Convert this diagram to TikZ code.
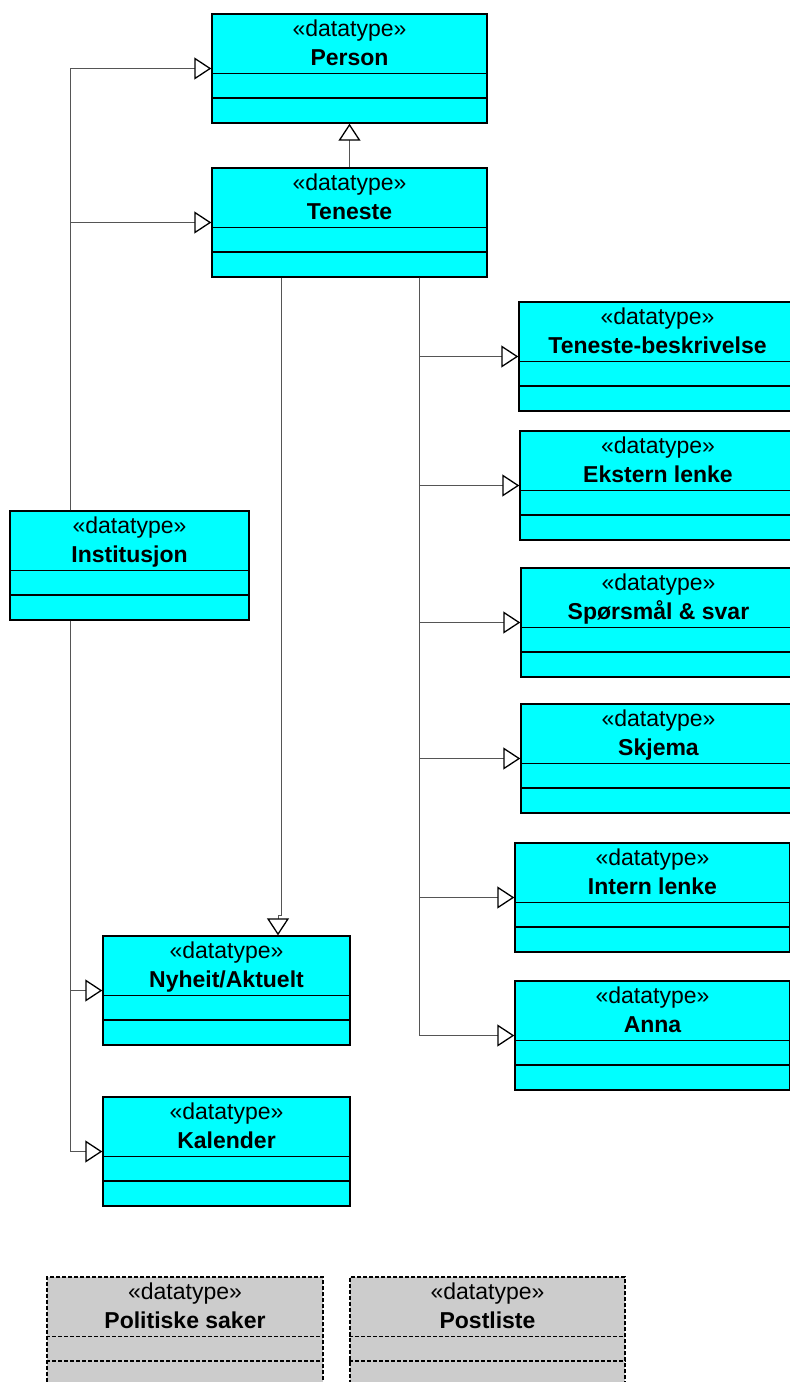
\documentclass[tikz,border=0pt]{standalone}
\usepackage{fontspec}
\setmainfont{Liberation Sans}
\usetikzlibrary{arrows.meta}
\definecolor{boxcyan}{RGB}{0,255,255}
\definecolor{boxgray}{RGB}{204,204,204}
\definecolor{conn}{RGB}{85,85,85}
\tikzset{
  cyanbox/.style={draw=black, line width=1.4pt, fill=boxcyan, inner sep=0pt},
  graybox/.style={draw=black, line width=1.4pt, fill=boxgray, inner sep=0pt, dash pattern=on 4pt off 2pt},
  cyanbox line/.style={draw=black, line width=1.4pt},
  graybox line/.style={draw=black, line width=1.4pt, dash pattern=on 4pt off 2pt},
  gen/.style={draw=conn, line width=1pt,
    -{Triangle[length=17pt,width=22pt,fill=white,color=black,line width=1.3pt]}},
  lbl/.style={anchor=base, inner sep=0pt, font=\fontsize{23}{28}\selectfont},
}
\newcommand\umlbox[6]{%
  \node[#6, minimum width=#4pt, minimum height=109pt] (#1) at ({#2+#4/2},{#3+54.5}) {};
  \draw[#6 line] ([yshift=-60pt]#1.north west) -- ([yshift=-60pt]#1.north east);
  \draw[#6 line] ([yshift=-84.5pt]#1.north west) -- ([yshift=-84.5pt]#1.north east);
  \node[lbl] (#1-st) at ({#2+#4/2},{#3+22}) {«datatype»};
  \node[lbl, font=\fontsize{23}{28}\selectfont\bfseries] (#1-nm) at ({#2+#4/2},{#3+51}) {#5};
}
\begin{document}
\begin{tikzpicture}[x=1pt,y=-1pt]
\useasboundingbox (0,0) rectangle (790,1382);
\begin{scope}
\clip (0,0) rectangle (790,1382);
% connectors first (boxes drawn over)
\coordinate (lx) at (70,0);
\coordinate (rx) at (419,0);
\coordinate (j1) at (281,915);
\coordinate (j2) at (278,915);

\umlbox{Person}{212}{14}{275}{Person}{cyanbox}
\umlbox{Teneste}{212}{168}{275}{Teneste}{cyanbox}
\umlbox{TB}{519}{302}{277}{Teneste-beskrivelse}{cyanbox}
\umlbox{EL}{520}{431}{276}{Ekstern lenke}{cyanbox}
\umlbox{SS}{521}{568}{275}{Spørsmål \& svar}{cyanbox}
\umlbox{SK}{521}{704}{275}{Skjema}{cyanbox}
\umlbox{IL}{515}{843}{275}{Intern lenke}{cyanbox}
\umlbox{AN}{515}{981}{275}{Anna}{cyanbox}
\umlbox{IN}{10}{511}{239}{Institusjon}{cyanbox}
\umlbox{NY}{103}{936}{247}{Nyheit/Aktuelt}{cyanbox}
\umlbox{KA}{103}{1097}{247}{Kalender}{cyanbox}
\umlbox{PS}{47}{1277}{276}{Politiske saker}{graybox}
\umlbox{PL}{350}{1277}{275}{Postliste}{graybox}

\draw[gen] (Teneste.north) -- (Person.south);
\draw[gen] (IN.north -| lx) |- (Person.west);
\draw[gen] (IN.north -| lx) |- (Teneste.west);
\draw[gen] (IN.south -| lx) |- (NY.west);
\draw[gen] (IN.south -| lx) |- (KA.west);
\draw[gen] (Teneste.south -| j1) -- (j1) -- (j2) -- (NY.north -| j2);
\draw[gen] (Teneste.south -| rx) |- (TB.west);
\draw[gen] (Teneste.south -| rx) |- (EL.west);
\draw[gen] (Teneste.south -| rx) |- (SS.west);
\draw[gen] (Teneste.south -| rx) |- (SK.west);
\draw[gen] (Teneste.south -| rx) |- (IL.west);
\draw[gen] (Teneste.south -| rx) |- (AN.west);
\end{scope}
\end{tikzpicture}
\end{document}
